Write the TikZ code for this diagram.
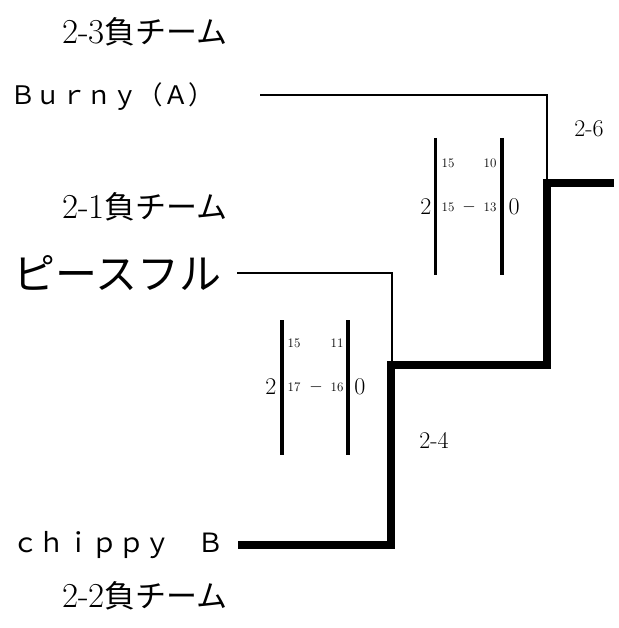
\documentclass[tikz,border=0pt]{standalone}
\usepackage{fontspec}
\newfontfamily\jp{Noto Sans CJK JP}
\begin{document}
\begin{tikzpicture}[x=1pt,y=-1pt,
  lbl/.style={inner sep=0pt,anchor=center},
  team/.style={inner sep=0pt,anchor=west},
  thin/.style={line width=2.3pt},
  thick/.style={line width=7.5pt},
  bar/.style={line width=3.5pt},
  big/.style={inner sep=0pt,font=\fontsize{24}{24}\selectfont},
  sm/.style={inner sep=0pt,font=\fontsize{13}{13}\selectfont},
  mn/.style={inner sep=0pt,font=\fontsize{16}{16}\selectfont},
  rd/.style={inner sep=0pt,font=\fontsize{24}{24}\selectfont}]
\useasboundingbox (0,0) rectangle (618,628);
% group labels
\node[lbl] (l23) at (145,32) {\fontsize{35}{35}\selectfont 2-3{\jp\fontsize{31}{31}\selectfont 負チーム}};
\node[lbl] (l21) at (145,207) {\fontsize{35}{35}\selectfont 2-1{\jp\fontsize{31}{31}\selectfont 負チーム}};
\node[lbl] (l22) at (145,596) {\fontsize{35}{35}\selectfont 2-2{\jp\fontsize{31}{31}\selectfont 負チーム}};
% teams
\node[team] (burny) at (10,97) {\jp\fontsize{25.5}{25.5}\selectfont Ｂｕｒｎｙ（Ａ）};
\node[team] (piece) at (13,273) {\jp\fontsize{42}{42}\selectfont ピースフル};
\node[team] (chippy) at (12,545) {\jp\fontsize{26.5}{26.5}\selectfont ｃｈｉｐｐｙ　Ｂ};
% coordinates
\coordinate (b0) at (260,95);
\coordinate (b1) at (547,95);
\coordinate (w1) at (547,183);
\coordinate (w1e) at (614,183);
\coordinate (p0) at (237,273);
\coordinate (p1) at (392,273);
\coordinate (w2) at (391,365);
\coordinate (w2r) at (547,365);
\coordinate (c1) at (391,545);
\coordinate (c0) at (238,545);
% thin losers' lines
\draw[thin] (b0) -- (b1) -- (w1);
\draw[thin] (p0) -- (p1) -- (p1 |- w2);
% thick winners' path
\draw[thick] (c0) -- (c1) -- (w2) -- (w2r) -- (w1) -- (w1e);
% round labels
\node[rd] (r26) at (589,129) {2-6};
\node[rd] (r24) at (434,440) {2-4};
% score block 1
\draw[bar] (435.5,138) -- (435.5,275);
\draw[bar] (502,138) -- (502,275);
\node[big] (s1a) at (426,207) {2};
\node[big] (s1b) at (514,207) {0};
\node[sm] at (448,163) {15};
\node[sm] at (490,163) {10};
\node[sm] at (448,207) {15};
\node[mn] at (469,207) {$-$};
\node[sm] at (490,207) {13};
% score block 2
\draw[bar] (282,320) -- (282,455);
\draw[bar] (348,320) -- (348,455);
\node[big] (s2a) at (271,387) {2};
\node[big] (s2b) at (360,387) {0};
\node[sm] at (294,343) {15};
\node[sm] at (337,343) {11};
\node[sm] at (294,387) {17};
\node[mn] at (316,387) {$-$};
\node[sm] at (337,387) {16};
\end{tikzpicture}
\end{document}
